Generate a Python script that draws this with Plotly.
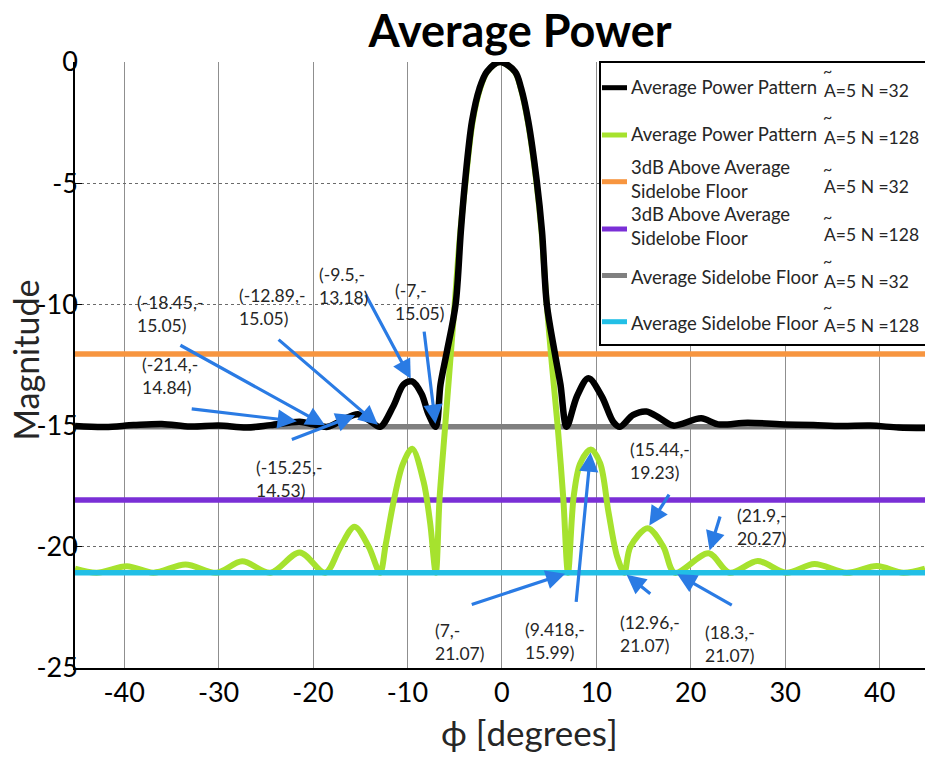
import plotly.graph_objects as go

# ---- data -------------------------------------------------------------
# Average power pattern, A~=5, N=32 : angle (deg) / magnitude (dB)
phi_n32 = [-45.2, -42, -39, -36, -33, -30, -27, -24.5, -21.4, -20, -18.45,
           -16.8, -15.25, -14, -12.89, -11.5, -10.4, -9.5, -8.5, -7.8, -7.0,
           -6.5, -5.85, -4.9, -4.35, -3.9, -3.17, -2.37, -1.59, -0.2, 1.4,
           2.04, 2.8, 3.7, 4.25, 4.76, 5.6, 6.2, 6.85, 7.94, 9.16, 10.58,
           11.8, 12.5, 13.9, 15.3, 16.75, 18.15, 21.1, 22.9, 26, 30, 33, 36,
           39, 42, 44.8]
mag_n32 = [-15.02, -15.06, -14.98, -14.93, -15.04, -15.0, -15.08, -14.98,
           -14.84, -14.95, -15.05, -14.75, -14.53, -14.8, -15.05, -14.2,
           -13.3, -13.18, -13.7, -14.5, -15.05, -13.3, -12.0, -10.0, -7.0,
           -4.94, -2.46, -1.09, -0.4, 0.0, -0.4, -1.09, -2.46, -4.94, -7.0,
           -10.0, -12.0, -13.3, -15.05, -13.8, -13.05, -13.8, -14.85, -15.05,
           -14.56, -14.42, -14.7, -15.0, -14.7, -14.95, -14.88, -14.95,
           -14.98, -15.02, -15.0, -15.08, -15.1]

# Average power pattern, A~=5, N=128
phi_n128 = [-45.2, -42.9, -39.7, -36.9, -33.5, -30.2, -27.5, -24.5, -21.4,
            -18.7, -17.1, -15.6, -14.1, -12.9, -12.3, -11.5, -10.5, -9.5,
            -8.3, -7.6, -7.0, -6.6, -6.0, -5.5, -5.0, -4.4, -3.85, -3.1,
            -2.3, -1.55, -0.2, 1.35, 2.0, 2.75, 3.65, 4.2, 4.75, 5.3, 5.9,
            6.5, 7.0, 7.6, 8.3, 9.418, 10.4, 11.3, 12.2, 12.96, 13.6, 15.44,
            17.1, 18.3, 21.9, 24.1, 27.1, 30.1, 33.1, 36.5, 39.7, 42.5, 44.8]
mag_n128 = [-20.9, -21.07, -20.8, -21.07, -20.73, -21.07, -20.6, -21.07,
            -20.23, -21.07, -20.0, -19.17, -20.0, -21.07, -19.9, -18.2,
            -16.6, -15.95, -17.3, -19.0, -21.07, -18.0, -15.0, -12.5, -10.0,
            -7.0, -4.94, -2.46, -1.09, -0.4, 0.0, -0.4, -1.09, -2.46, -4.94,
            -7.0, -10.0, -12.5, -15.0, -18.0, -21.07, -17.93, -16.55, -15.99,
            -16.55, -18.6, -20.4, -21.07, -20.0, -19.23, -20.0, -21.07,
            -20.27, -21.07, -20.59, -21.07, -20.71, -21.07, -20.79, -21.07,
            -20.9]

# sidelobe floors and the 3 dB thresholds above them
floor_n32 = -15.05
floor_n128 = -21.07
above_n32 = floor_n32 + 3
above_n128 = floor_n128 + 3

# annotated points (phi, dB)
marked_n32 = [(-18.45, -15.05), (-12.89, -15.05), (-9.5, -13.18),
              (-7, -15.05), (-21.4, -14.84), (-15.25, -14.53)]
marked_n128 = [(7, -21.07), (9.418, -15.99), (12.96, -21.07),
               (18.3, -21.07), (15.44, -19.23), (21.9, -20.27)]

x_ticks = [-40, -30, -20, -10, 0, 10, 20, 30, 40]
y_ticks = [0, -5, -10, -15, -20, -25]
x_range = [-45.2, 44.8]
y_range = [-25, 0]

# ---- styling ------------------------------------------------------------
FONT = "Lato"
TXT = "#262626"
BLACK = "#000000"
GREEN = "#a6e22e"
ORANGE = "#f7953f"
PURPLE = "#7a2fd6"
GRAY = "#808080"
CYAN = "#22bfe6"
ARROW = "#2a7be4"

W, H = 925, 768
ML, MR, MT, MB = 75, 0, 62, 100
PW, PH = W - ML - MR, H - MT - MB


def px(xp):
    return (xp - ML) / PW


def py(yp):
    return 1 - (yp - MT) / PH


def tick_text(values):
    # plain hyphen for the minus sign
    return [f"{v:g}" for v in values]


fig = go.Figure()


def hline(level, color, name):
    fig.add_trace(go.Scatter(x=x_range, y=[level, level], mode="lines",
                             line=dict(color=color, width=5.5), name=name,
                             showlegend=False, hoverinfo="skip"))


hline(floor_n32, GRAY, "Average Sidelobe Floor N=32")
hline(above_n32, ORANGE, "3dB Above Average Sidelobe Floor N=32")
hline(above_n128, PURPLE, "3dB Above Average Sidelobe Floor N=128")

fig.add_trace(go.Scatter(x=phi_n128, y=mag_n128, mode="lines",
                         line=dict(color=GREEN, width=6, shape="spline",
                                   smoothing=0.9),
                         name="Average Power Pattern N=128", showlegend=False))
hline(floor_n128, CYAN, "Average Sidelobe Floor N=128")
fig.add_trace(go.Scatter(x=phi_n32, y=mag_n32, mode="lines",
                         line=dict(color=BLACK, width=6.5, shape="spline",
                                   smoothing=0.9),
                         name="Average Power Pattern N=32", showlegend=False))

# ---- point labels with arrows ---------------------------------------------
# (text top-left in data coords, arrow tail in data coords)
label_n32 = [((-38.8, -9.41), (-34.2, -11.65)),
             ((-28.0, -9.12), (-23.8, -11.4)),
             ((-19.55, -8.25), (-14.5, -9.54)),
             ((-11.5, -8.91), (-8.25, -11.06)),
             ((-38.3, -11.96), (-33.0, -14.3)),
             ((-26.3, -16.21), (-22.4, -15.6))]
label_n128 = [((-7.27, -22.94), (-3.35, -22.4)),
              ((2.25, -22.9), (7.85, -22.33)),
              ((12.3, -22.6), (15.87, -21.99)),
              ((21.3, -23.0), (24.5, -22.44)),
              ((13.36, -15.47), (17.8, -17.79)),
              ((24.7, -18.19), (23.15, -18.69))]

annotations = []
for pts, labs in ((marked_n32, label_n32), (marked_n128, label_n128)):
    for (xv, yv), ((tx, ty), (ax, ay)) in zip(pts, labs):
        annotations.append(dict(
            x=xv, y=yv, ax=ax, ay=ay, xref="x", yref="y", axref="x",
            ayref="y", text="", showarrow=True, arrowhead=2, arrowsize=1.2,
            arrowwidth=3.2, arrowcolor=ARROW, standoff=3))
        annotations.append(dict(
            x=tx, y=ty, xref="x", yref="y", xanchor="left", yanchor="top",
            text=f"({xv:g},-<br>{-yv:g})", showarrow=False, align="left",
            font=dict(family=FONT, size=17.5, color=TXT)))

# ---- legend box -------------------------------------------------------------
shapes = [dict(type="rect", xref="paper", yref="paper", x0=px(600),
               x1=px(935), y0=py(345), y1=py(62), fillcolor="white",
               line=dict(color=BLACK, width=2), layer="above")]

legend_items = [
    ("Average Power Pattern", BLACK, 87.7, 86.7, "32", 70, 90),
    ("Average Power Pattern", GREEN, 135, 134, "128", 116.7, 137.7),
    ("3dB Above Average<br>Sidelobe Floor", ORANGE, 181.7, 179, "32", 168,
     186.7),
    ("3dB Above Average<br>Sidelobe Floor", PURPLE, 229, 226, "128", 216.7,
     235),
    ("Average Sidelobe Floor", GRAY, 275.5, 277, "32", 260, 281),
    ("Average Sidelobe Floor", CYAN, 321.7, 323, "128", 306.7, 325.7),
]
for name, color, ys, yt, n, ytil, ya in legend_items:
    shapes.append(dict(type="line", xref="paper", yref="paper", x0=px(602),
                       x1=px(627), y0=py(ys), y1=py(ys),
                       line=dict(color=color, width=5), layer="above"))
    annotations.append(dict(x=px(629), y=py(yt), xref="paper", yref="paper",
                            xanchor="left", yanchor="middle", text=name,
                            showarrow=False, align="left",
                            font=dict(family=FONT, size=18.5, color=TXT)))
    annotations.append(dict(x=px(821), y=py(ytil), xref="paper",
                            yref="paper", xanchor="left", yanchor="middle",
                            text="~", showarrow=False,
                            font=dict(family=FONT, size=16, color=TXT)))
    annotations.append(dict(x=px(822), y=py(ya), xref="paper", yref="paper",
                            xanchor="left", yanchor="middle",
                            text=f"A=5 N ={n}", showarrow=False,
                            font=dict(family=FONT, size=17.5, color=TXT)))

# ---- axis titles --------------------------------------------------------------
annotations.append(dict(x=px(2), y=py(360), xref="paper", yref="paper",
                        xanchor="left", yanchor="middle",
                        text="Magnitude", textangle=-90, showarrow=False,
                        font=dict(family=FONT, size=34, color=TXT)))
annotations.append(dict(x=px(529), y=py(755), xref="paper", yref="paper",
                        text="ϕ [degrees]", showarrow=False,
                        font=dict(family=FONT, size=35, color=TXT)))

fig.update_layout(
    width=W, height=H,
    margin=dict(l=ML, r=MR, t=MT, b=MB),
    paper_bgcolor="white", plot_bgcolor="white",
    title=dict(text="<b>Average Power</b>", x=px(520), xref="paper",
               y=1 - 31 / H, yref="container", xanchor="center",
               yanchor="middle",
               font=dict(family=FONT, size=45, color=BLACK)),
    xaxis=dict(range=x_range, tickvals=x_ticks, ticktext=tick_text(x_ticks),
               showline=True, linecolor=BLACK, linewidth=1.5, showgrid=True,
               gridcolor="#8f8f8f", gridwidth=1, zeroline=False,
               ticks="", tickfont=dict(family=FONT, size=27, color=BLACK)),
    yaxis=dict(range=y_range, tickvals=y_ticks, ticktext=tick_text(y_ticks),
               showline=True, linecolor=BLACK, linewidth=1.5, showgrid=True,
               gridcolor="#6a6a6a", gridwidth=1, griddash="dot",
               zeroline=False, ticks="inside", ticklen=7, tickcolor=BLACK,
               ticklabelstandoff=-10,
               tickfont=dict(family=FONT, size=27, color=BLACK)),
    shapes=shapes,
    annotations=annotations,
    showlegend=False,
)

fig.write_html("out.html")
